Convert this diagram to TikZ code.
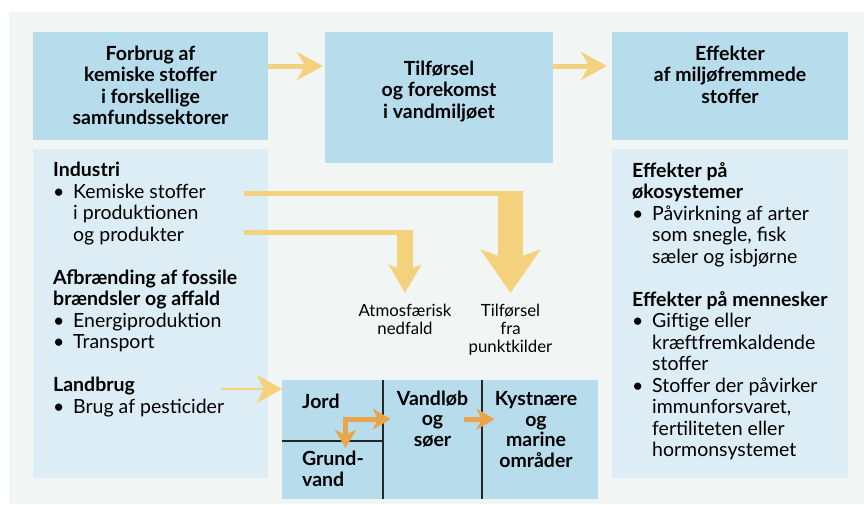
\documentclass[tikz,border=0pt]{standalone}
\usepackage{fontspec}
\setmainfont{Lato}
\usetikzlibrary{arrows.meta,positioning}

\definecolor{panel}{HTML}{F1F6F5}
\definecolor{topblue}{HTML}{B7DDED}
\definecolor{lowblue}{HTML}{DCEDF5}
\definecolor{yel}{HTML}{F4D27D}
\definecolor{orng}{HTML}{E9A54A}

\newcommand{\bul}{\makebox[20pt][l]{\textbullet}}
\newcommand{\ind}{\hspace*{20pt}}

\begin{document}
\begin{tikzpicture}[x=1pt,y=-1pt,
   topbox/.style={rectangle,fill=topblue,inner sep=0pt,outer sep=0pt},
   lowbox/.style={rectangle,fill=lowblue,inner sep=0pt,outer sep=0pt},
   headtxt/.style={inner sep=0pt,align=center,font=\bfseries\fontsize{19.5}{21.5}\selectfont},
   listtxt/.style={inner sep=0pt,align=left,font=\fontsize{19.5}{21.5}\selectfont},
   fieldtxt/.style={inner sep=0pt,align=center,font=\bfseries\fontsize{19.5}{20.8}\selectfont},
   smalltxt/.style={inner sep=0pt,align=center,font=\fontsize{16.8}{18}\selectfont},
   toparr/.style={draw=yel,line width=5pt,-{Stealth[length=26pt,width=28pt,inset=8pt]}},
   yline/.style={draw=yel,line width=5pt},
   bigshaft/.style={draw=yel,line width=25pt,-{Stealth[length=43pt,width=59pt,inset=10pt]}},
   midshaft/.style={draw=yel,line width=16pt,-{Stealth[length=28pt,width=32pt,inset=6pt]}},
   thinarr/.style={draw=yel,line width=2.7pt,-{Stealth[length=25pt,width=28pt,inset=7pt]}},
   orarr/.style={draw=orng,line width=5pt},
   divider/.style={draw=black!85,line width=1.2pt}]
   \useasboundingbox (0,0) rectangle (864,504);
   \fill[panel] (9,12) rectangle (864,504);

   % boxes
   \node[topbox,minimum width=235pt,minimum height=108pt,anchor=north west] (forbrug) at (33,32) {};
   \node[topbox,minimum width=228pt,minimum height=131pt,right=57pt of forbrug.north east,anchor=north west] (tilf) {};
   \node[topbox,minimum width=236pt,minimum height=108pt,right=59pt of tilf.north east,anchor=north west] (effekt) {};
   \node[lowbox,minimum width=235pt,minimum height=329pt,below=9pt of forbrug.south west,anchor=north west] (kilder) {};
   \node[lowbox,minimum width=236pt,minimum height=329pt,below=9pt of effekt.south west,anchor=north west] (virkning) {};
   \node[topbox,minimum width=316pt,minimum height=119pt,anchor=north west] (vand) at (282,380) {};

   \draw[divider] ([xshift=101pt]vand.north west) -- ([xshift=101pt]vand.south west);
   \draw[divider] ([xshift=200pt]vand.north west) -- ([xshift=200pt]vand.south west);
   \draw[divider] ([yshift=-61pt]vand.north west) -- ++(101,0);

   % texts
   \node[headtxt,below=13.4pt of forbrug.north] (forbrugtxt) {Forbrug af\\kemiske stoffer\\i forskellige\\samfundssektorer};
   \node[headtxt,below=28.5pt of tilf.north] (tilftxt) {Tilførsel\\og forekomst\\i vandmiljøet};
   \node[headtxt,below=13.4pt of effekt.north] (effekttxt) {Effekter\\af miljøfremmede\\stoffer};

   \node[listtxt,anchor=north west] (kildertxt) at ([xshift=20pt,yshift=-13pt]kilder.north west)
      {\textbf{Industri}\\
       \bul Kemiske stoffer\\
       \ind i produktionen\\
       \ind og produkter\\[21.5pt]
       \textbf{Afbrænding af fossile}\\
       \textbf{brændsler og affald}\\
       \bul Energiproduktion\\
       \bul Transport\\[21.5pt]
       \textbf{Landbrug}\\
       \bul Brug af pesticider};
   \node[listtxt,anchor=north west] (virkningtxt) at ([xshift=20pt,yshift=-13pt]virkning.north west)
      {\textbf{Effekter på}\\
       \textbf{økosystemer}\\
       \bul Påvirkning af arter\\
       \ind som snegle, fisk\\
       \ind sæler og isbjørne\\[21.5pt]
       \textbf{Effekter på mennesker}\\
       \bul Giftige eller\\
       \ind kræftfremkaldende\\
       \ind stoffer\\
       \bul Stoffer der påvirker\\
       \ind immunforsvaret,\\
       \ind fertiliteten eller\\
       \ind hormonsystemet};

   \node[smalltxt,anchor=north] (atmos) at (405,304) {Atmosfærisk\\nedfald};
   \node[smalltxt,anchor=north] (punkt) at (510.5,304) {Tilførsel\\fra\\punktkilder};

   \node[fieldtxt,align=left,anchor=north west] (jord) at (302,394) {Jord};
   \node[fieldtxt,align=left,anchor=north west] (grund) at (302,451) {Grund-\\vand};
   \node[fieldtxt,anchor=north] (vandlob) at (432.5,390.5) {Vandløb\\og\\søer};
   \node[fieldtxt,anchor=north] (kyst) at (536,391) {Kystnære\\og\\marine\\områder};

   % connectors
   \coordinate (ind1) at (244,193.5);
   \coordinate (ind2) at (244,232.5);
   \coordinate (landb) at (221,389);

   \draw[toparr,shorten >=2pt] ([yshift=20pt]forbrug.east) -- ([yshift=20pt]forbrug.east -| tilf.west);
   \draw[toparr,shorten >=5pt] ([yshift=31.5pt]tilf.east) -- ([yshift=31.5pt]tilf.east -| effekt.west);

   \draw[yline] (ind1) -- ([xshift=12.5pt]ind1 -| punkt.north);
   \draw[bigshaft,shorten >=11pt] ([yshift=2.5pt]ind1 -| punkt.north) -- (punkt.north);
   \draw[yline] (ind2) -- ([xshift=8pt]ind2 -| atmos.north);
   \draw[midshaft,shorten >=11pt] ([yshift=2.5pt]ind2 -| atmos.north) -- (atmos.north);

   \draw[thinarr] (landb) -- (landb -| vand.west);

   \draw[orarr,{Stealth[length=18pt,width=21pt,inset=5pt]}-{Stealth[length=18pt,width=21pt,inset=5pt]}]
      ([xshift=12.5pt,yshift=3pt]grund.north) |- ([xshift=-6pt]vandlob.west);
   \draw[orarr,-{Stealth[length=18pt,width=21pt,inset=5pt]}]
      ([xshift=-4pt]vandlob.east) -- (vandlob.east -| kyst.west);
\end{tikzpicture}
\end{document}
